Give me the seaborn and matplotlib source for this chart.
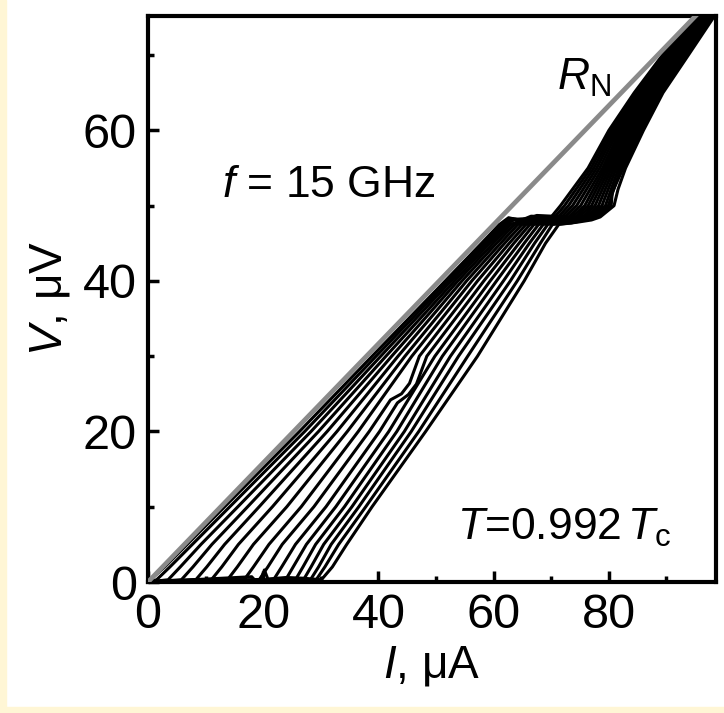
import matplotlib
matplotlib.use("Agg")
import matplotlib.pyplot as plt
from matplotlib.patches import Rectangle
from matplotlib.ticker import MultipleLocator
import seaborn as sns
import pandas as pd

# ---------------- data ----------------
# voltage levels (uV) at which the current of each I-V curve was read
V_levels = [0.3, 2, 5, 10, 20, 30, 40, 45, 47.5, 48.5, 50, 55, 60, 65, 70, 75.5]
# current (uA) of curve k at each voltage level (16 curves)
I_V0_3 = [0.4, 1.5, 3.5, 5.8, 8.3, 11.0, 13.8, 16.7, 19.3, 21.8, 23.9, 25.6, 27.0, 28.2, 29.2, 30.1]
I_V2 = [2.9, 3.8, 5.6, 7.8, 10.2, 12.8, 15.5, 18.3, 20.8, 23.2, 25.2, 26.9, 28.3, 29.6, 30.7, 32.0]
I_V5 = [6.8, 7.7, 9.2, 11.1, 13.3, 15.7, 18.3, 21.0, 23.3, 25.6, 27.5, 29.1, 30.5, 31.8, 33.1, 34.5]
I_V10 = [13.3, 14.2, 15.6, 17.3, 19.3, 21.6, 24.1, 26.6, 28.8, 30.9, 32.6, 34.1, 35.4, 36.6, 37.8, 38.9]
I_V20 = [26.3, 27.2, 28.3, 29.6, 31.1, 32.8, 34.6, 36.5, 38.4, 40.2, 41.8, 43.2, 44.5, 45.7, 47.0, 48.2]
I_V30 = [38.9, 39.6, 40.4, 41.3, 42.3, 43.4, 44.6, 45.8, 47.1, 48.4, 49.8, 51.1, 52.5, 53.9, 55.5, 57.2]
I_V40 = [51.6, 52.1, 52.6, 53.2, 53.8, 54.5, 55.3, 56.2, 57.2, 58.3, 59.4, 60.5, 61.7, 62.9, 64.1, 65.3]
I_V45 = [57.9, 58.3, 58.8, 59.3, 59.9, 60.5, 61.2, 61.9, 62.7, 63.5, 64.4, 65.3, 66.2, 67.1, 68.1, 69.0]
I_V47_5 = [61.0, 61.5, 62.0, 62.5, 63.0, 63.6, 64.2, 64.9, 65.6, 66.3, 67.0, 67.8, 68.6, 69.4, 70.2, 71.3]
I_V48_5 = [70.0, 70.6, 71.2, 71.8, 72.4, 73.0, 73.6, 74.2, 74.8, 75.4, 76.0, 76.5, 77.0, 77.5, 78.0, 78.5]
I_V50 = [71.6, 72.3, 73.0, 73.7, 74.4, 75.1, 75.8, 76.4, 77.0, 77.6, 78.2, 78.8, 79.4, 79.9, 80.4, 80.9]
I_V55 = [76.4, 76.9, 77.4, 77.9, 78.4, 78.9, 79.3, 79.7, 80.1, 80.5, 80.9, 81.3, 81.7, 82.1, 82.5, 82.9]
I_V60 = [80.0, 80.4, 80.8, 81.2, 81.6, 82.0, 82.4, 82.8, 83.2, 83.6, 84.0, 84.4, 84.8, 85.2, 85.6, 86.0]
I_V65 = [84.4, 84.8, 85.2, 85.6, 86.0, 86.4, 86.7, 87.0, 87.3, 87.6, 87.9, 88.2, 88.5, 88.8, 89.1, 89.4]
I_V70 = [89.3, 89.6, 89.9, 90.2, 90.5, 90.8, 91.1, 91.4, 91.7, 92.0, 92.3, 92.6, 92.9, 93.2, 93.5, 93.8]
I_V75_5 = [95.6, 95.8, 96.0, 96.2, 96.4, 96.6, 96.8, 97.0, 97.2, 97.4, 97.6, 97.8, 98.0, 98.2, 98.4, 98.6]
I_table = [I_V0_3, I_V2, I_V5, I_V10, I_V20, I_V30, I_V40, I_V45, I_V47_5,
           I_V48_5, I_V50, I_V55, I_V60, I_V65, I_V70, I_V75_5]

# extra (I, V) points: small steps / bumps seen on some curves
extra_points = {
    0: [(62.6, 48.4), (65.5, 47.9)],
    1: [(63.2, 48.3), (66.0, 47.9)],
    2: [(63.8, 48.2)],
    4: [(66.5, 48.6)],
    5: [(67.5, 48.7)],
    8: [(42.1, 24.2), (44.0, 25.0), (45.4, 26.4)],
    9: [(43.3, 23.8), (45.2, 24.9), (46.6, 26.3)],
    12: [(18.0, 0.7), (18.6, 0.2)],
    14: [(73.5, 47.7), (80.6, 51.8)],
    15: [(9.0, 0.3), (14.0, 0.2), (19.6, 0.3), (20.2, 1.6), (20.8, 0.4), (24.0, 0.6),
         (27.0, 0.5), (74.5, 47.8), (77.0, 48.1), (81.6, 52.2)],
}

# normal-state resistance line R_N
rn_I = [0, 95.8]
rn_V = [0, 75.8]

x_ticks = [0, 20, 40, 60, 80]
y_ticks = [0, 20, 40, 60]

# ---------------- build long table ----------------
rows = []
n_curves = len(I_V2)
for k in range(n_curves):
    rows.append((k, 0.0, 0.0))
    for v, col in zip(V_levels, I_table):
        rows.append((k, col[k], v))
    for (i, v) in extra_points.get(k, []):
        rows.append((k, i, v))
df = pd.DataFrame(rows, columns=["curve", "I", "V"])
df = df.sort_values(["curve", "I"]).reset_index(drop=True)

# ---------------- style ----------------
sns.set_theme(style="white")
plt.rcParams["font.family"] = ["Liberation Sans", "DejaVu Sans"]
plt.rcParams["mathtext.fontset"] = "custom"
plt.rcParams["mathtext.rm"] = "Liberation Sans"
plt.rcParams["mathtext.it"] = "Liberation Sans:italic"
plt.rcParams["mathtext.bf"] = "Liberation Sans:bold"
plt.rcParams["text.color"] = "black"
plt.rcParams["axes.labelcolor"] = "black"
plt.rcParams["xtick.color"] = "black"
plt.rcParams["ytick.color"] = "black"

fig = plt.figure(figsize=(7.24, 7.13), dpi=100, facecolor="white")
ax = fig.add_axes([148 / 724, 1 - 582 / 713, (716 - 148) / 724, (582 - 16) / 713])
ax.set_facecolor("white")

# cream page margins
cream = "#FFF6D5"
fig.patches.append(Rectangle((0, 0), 6 / 724, 1, transform=fig.transFigure,
                             color=cream, zorder=0))
fig.patches.append(Rectangle((0, 0), 1, 6 / 713, transform=fig.transFigure,
                             color=cream, zorder=0))

sns.lineplot(data=df, x="I", y="V", units="curve", estimator=None, sort=False,
             color="black", linewidth=2.2, ax=ax, legend=False, zorder=2)
sns.lineplot(x=rn_I, y=rn_V, color="#8a8a8a", linewidth=3.4, ax=ax, zorder=3)

ax.set_xlim(0, 98.6)
ax.set_ylim(0, 75.2)
ax.set_xticks(x_ticks)
ax.set_yticks(y_ticks)
ax.xaxis.set_minor_locator(MultipleLocator(10))
ax.yaxis.set_minor_locator(MultipleLocator(10))
ax.tick_params(which="both", direction="in", top=False, right=False,
               bottom=True, left=True, width=2.5, color="black")
ax.tick_params(which="major", length=8, labelsize=35, pad=8, labelcolor="black")
ax.tick_params(which="minor", length=4.5)
for s in ax.spines.values():
    s.set_linewidth(3)
    s.set_color("black")

ax.set_xlabel(r"$\mathit{I}$, μA", fontsize=33, labelpad=4, color="black")
ax.set_ylabel(r"$\mathit{V}$, μV", fontsize=33, labelpad=8, color="black")

ax.text(12.9, 52.7, r"$\mathit{f}$ = 15 GHz", fontsize=32, va="center", ha="left")
ax.text(71.0, 67.0, r"$\mathit{R}_\mathrm{N}$", fontsize=32, va="center", ha="left")
ax.text(53.6, 7.2, r"$\mathit{T}$=0.992$\,\mathit{T}_\mathrm{c}$", fontsize=32,
        va="center", ha="left")

fig.savefig("out.png", dpi=100, facecolor="white")
